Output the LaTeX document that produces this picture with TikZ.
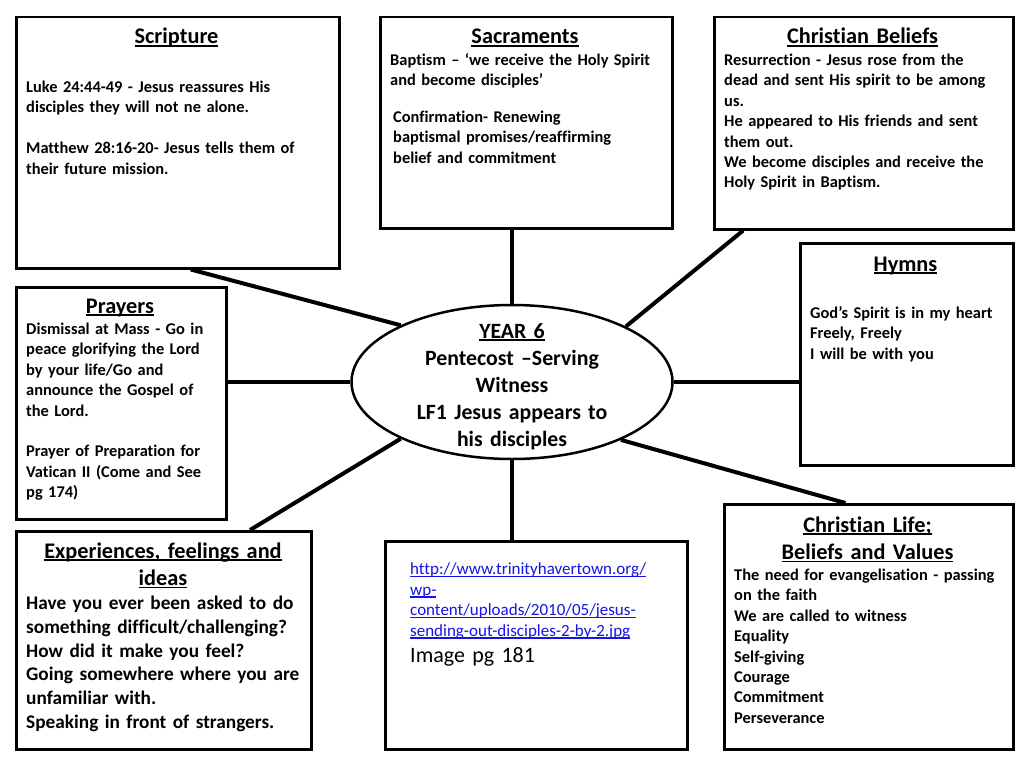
\documentclass[tikz,border=0pt]{standalone}
\usepackage{fontspec}
\setmainfont{Carlito}[Ligatures=NoCommon]
\usetikzlibrary{calc,shapes.geometric,shadows}
\newsavebox\myulbox
\newcommand\myul[1]{\leavevmode\sbox\myulbox{#1}\rlap{\rule[-2.6pt]{\wd\myulbox}{1.3pt}}\usebox\myulbox}
\definecolor{linkblue}{RGB}{20,20,230}
\begin{document}
\begin{tikzpicture}[x=1pt,y=-1pt,
  box/.style={draw, line width=2.5pt, fill=white, anchor=north west, inner sep=0,
    drop shadow={shadow xshift=1.5pt, shadow yshift=-1.5pt, opacity=0.25}},
  conn/.style={line width=4pt},
  body/.style={anchor=base west, inner sep=0, align=left, text width=320pt,
    font=\bfseries\fontsize{16.4}{20.4}\selectfont},
  bigbody/.style={anchor=base west, inner sep=0, align=left, text width=320pt,
    font=\bfseries\fontsize{19.3}{23.8}\selectfont},
  ttl/.style={anchor=base, inner sep=0, align=center, text width=320pt,
    font=\bfseries\fontsize{22.3}{27.3}\selectfont}]
\useasboundingbox[fill=white] (0,0) rectangle (1024,768);

% boxes
\node[box, minimum width=323pt, minimum height=251pt] (scr) at (15,16) {};
\node[box, minimum width=292pt, minimum height=211pt] (sac) at (379,16) {};
\node[box, minimum width=299pt, minimum height=212pt] (bel) at (713,16) {};
\node[box, minimum width=213pt, minimum height=222pt] (hym) at (799,242) {};
\node[box, minimum width=210pt, minimum height=232pt] (pra) at (15,286) {};
\node[box, minimum width=295pt, minimum height=218pt] (exp) at (15,530) {};
\node[box, minimum width=302pt, minimum height=208pt] (img) at (384,540) {};
\node[box, minimum width=289pt, minimum height=245pt] (lif) at (723,503) {};

% centre ellipse
\node[ellipse, draw, line width=2.5pt, fill=white, minimum width=321pt, minimum height=154pt, inner sep=0] (ell) at (512,382) {};

% connectors
\draw[conn] ($(scr.south west)!0.54!(scr.south east)$) -- (ell.153.8);
\draw[conn] (ell.north |- sac.south) -- (ell.north);
\draw[conn] ($(bel.south west)!0.10!(bel.south east)$) -- (ell.26.8);
\draw[conn] (ell.east) -- (ell.east -| hym.west);
\draw[conn] (ell.west) -- (ell.west -| pra.east);
\draw[conn] ($(exp.north west)!0.79!(exp.north east)$) -- (ell.207.8);
\draw[conn] (ell.south) -- (ell.south |- img.north);
\draw[conn] ($(lif.north west)!0.42!(lif.north east)$) -- (ell.332.8);

% titles
\node[ttl] (scrT) at (176.5,44) {\myul{Scripture}};
\node[ttl] (sacT) at (525,44) {\myul{Sacraments}};
\node[ttl] (belT) at (862.5,44) {\myul{Christian Beliefs}};
\node[ttl] (hymT) at (905.5,271) {\myul{Hymns}};
\node[ttl] (praT) at (120,313) {\myul{Prayers}};
\node[ttl] (expT) at (163,558) {\myul{Experiences, feelings and}\\\myul{ideas}};
\node[ttl] (lifT) at (867.5,532) {\myul{Christian Life;}\\\myul{Beliefs and Values}};
\node[ttl, font=\bfseries\fontsize{21.8}{27}\selectfont] (ellT) at (512,338) {\myul{YEAR 6}\\Pentecost –Serving\\Witness\\LF1 Jesus appears to\\his disciples};

% bodies
\node[body] (scrB) at (26,92.5) {Luke 24:44-49 - Jesus reassures His\\disciples they will not ne alone.\\[20.4pt]Matthew 28:16-20- Jesus tells them of\\their future mission.};
\node[body] (sacB1) at (390,65.5) {Baptism – ‘we receive the Holy Spirit\\and become disciples’};
\node[body] (sacB2) at (393,122.5) {Confirmation- Renewing\\baptismal promises/reaffirming\\belief and commitment};
\node[body] (belB) at (724,65.5) {Resurrection - Jesus rose from the\\dead and sent His spirit to be among\\us.\\He appeared to His friends and sent\\them out.\\We become disciples and receive the\\Holy Spirit in Baptism.};
\node[body] (hymB) at (810,318.5) {God’s Spirit is in my heart\\Freely, Freely\\I will be with you};
\node[body] (praB) at (26,334.5) {Dismissal at Mass - Go in\\peace glorifying the Lord\\by your life/Go and\\announce the Gospel of\\the Lord.\\[20.4pt]Prayer of Preparation for\\Vatican II (Come and See\\pg 174)};
\node[bigbody] (expB) at (26,609.5) {Have you ever been asked to do\\something difficult/challenging?\\How did it make you feel?\\Going somewhere where you are\\unfamiliar with.\\Speaking in front of strangers.};
\node[body] (lifB) at (734,580.5) {The need for evangelisation - passing\\on the faith\\We are called to witness\\Equality\\Self-giving\\Courage\\Commitment\\Perseverance};
\node[body, font=\mdseries\fontsize{17}{20.5}\selectfont, text=linkblue] (url) at (410,574.5) {\myul{http://www.trinityhavertown.org/}\\\myul{wp-}\\\myul{content/uploads/2010/05/jesus-}\\\myul{sending-out-disciples-2-by-2.jpg}};
\node[body, font=\mdseries\fontsize{22}{24}\selectfont] (imgB) at (410,662) {Image pg 181};
\end{tikzpicture}
\end{document}
